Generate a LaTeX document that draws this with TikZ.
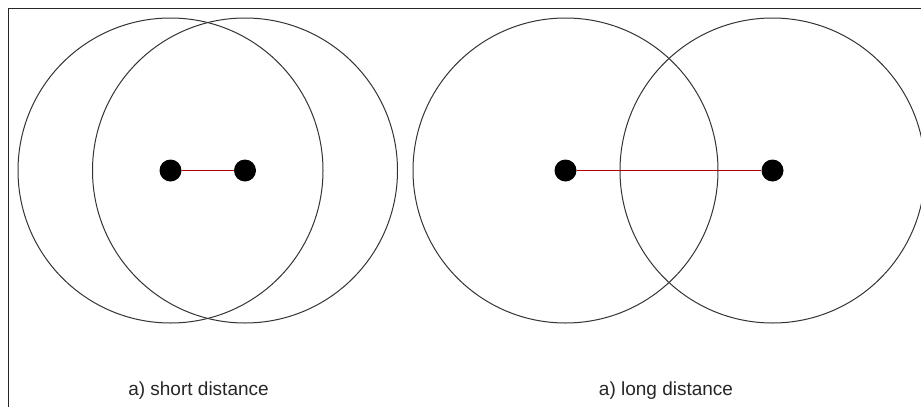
\documentclass[tikz,border=0pt]{standalone}
\usepackage{fontspec}
\setmainfont{Liberation Sans}
\begin{document}
\begin{tikzpicture}[x=1pt,y=-1pt,
  ring/.style={circle,draw=black!80,line width=1pt,minimum size=305pt,inner sep=0pt},
  dot/.style={circle,fill=black,minimum size=22pt,inner sep=0pt},
  link/.style={draw=red!70!black,line width=0.9pt},
  captext/.style={font=\fontsize{19}{22}\selectfont,text=black!85,anchor=base}]
\useasboundingbox (0,0) rectangle (921,407);
\draw[line width=1.6pt,black!85] (8.5,407) -- (8.5,8.5) -- (921,8.5);
\node[ring] (c1) at (170.5,170.5) {};
\node[ring] (c2) at (245,170.5) {};
\node[ring] (c3) at (565.5,170.5) {};
\node[ring] (c4) at (772.5,170.5) {};
\node[dot] (d1) at (170.5,170.5) {};
\node[dot] (d2) at (245,170.5) {};
\node[dot] (d3) at (565.5,170.5) {};
\node[dot] (d4) at (772.5,170.5) {};
\draw[link] (d1) -- (d2);
\draw[link] (d3) -- (d4);
\node[captext] (t1) at (198.5,395) {a) short distance};
\node[captext] (t2) at (666,395) {a) long distance};
\end{tikzpicture}
\end{document}
